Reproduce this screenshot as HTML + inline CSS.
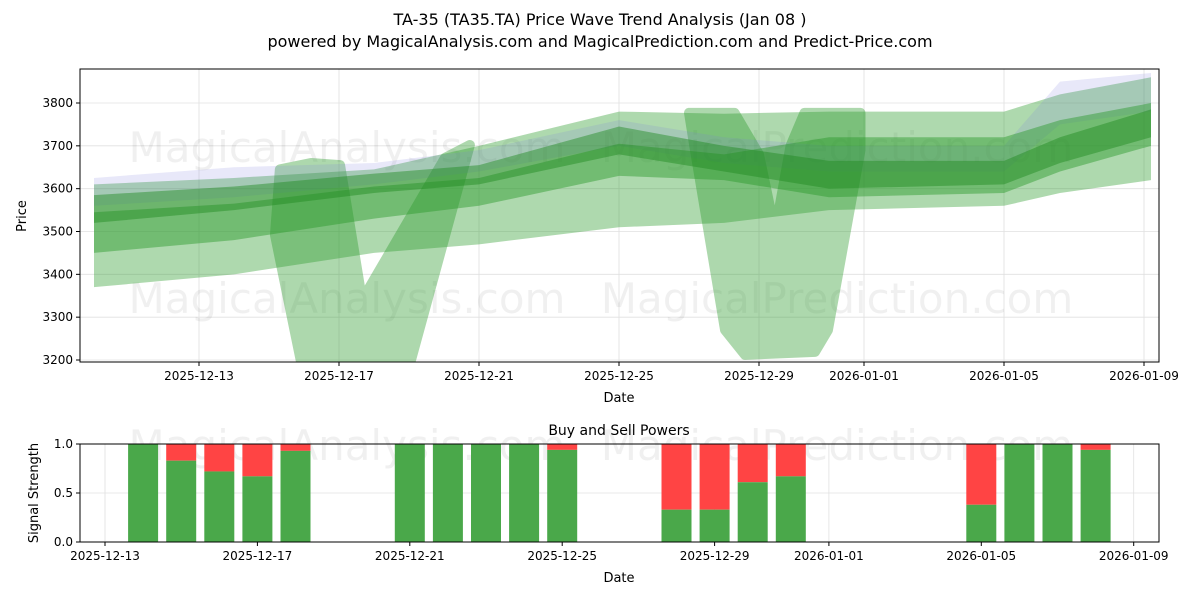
<!DOCTYPE html>
<html><head><meta charset="utf-8"><style>
body{margin:0;background:#fff;font-family:"Liberation Sans","DejaVu Sans",sans-serif}
svg text{font-family:"DejaVu Sans","Liberation Sans",sans-serif;fill:#000}
</style></head><body>
<svg id="c" width="1200" height="600" xmlns="http://www.w3.org/2000/svg">
<text x="600" y="25" text-anchor="middle" font-size="16">TA-35 (TA35.TA) Price Wave Trend Analysis (Jan 08 )</text>
<text x="600" y="47" text-anchor="middle" font-size="16">powered by MagicalAnalysis.com and MagicalPrediction.com and Predict-Price.com</text>
<g id="topg"></g><g id="botg"></g>
</svg>
<script>
// day numbers: 1 = Dec 1 2025, 32 = Jan 1 2026
const bandDays=[10,14,18,21,25,28,31,36,37.6,40.2];
const bandAHi=[3610,3625,3645,3700,3780,3775,3780,3780,3820,3860];
const bandALo=[3370,3400,3450,3470,3510,3520,3550,3560,3590,3620];
const bandBHi=[3545,3565,3605,3625,3705,3680,3720,3720,3760,3800];
const bandBLo=[3450,3480,3530,3560,3630,3620,3580,3590,3640,3700];
const bandCHi=[3585,3605,3635,3655,3745,3700,3665,3665,3720,3785];
const bandCLo=[3520,3550,3590,3610,3680,3640,3600,3610,3660,3720];
const blueHi=[3625,3650,3660,3690,3760,3720,3700,3700,3850,3870];
const blueLo=[3560,3580,3610,3640,3700,3660,3640,3640,3750,3780];
const dip1=[[15.17,3492],[15.31,3645],[16.2,3660],[17.03,3655],[17.66,3340],[20.03,3672],[20.74,3702],[18.89,3150],[16.03,3150]];
const dip2=[[27.0,3777],[28.3,3777],[29.0,3680],[29.46,3500],[29.9,3700],[30.3,3777],[31.9,3777],[31.9,3690],[30.97,3270],[30.6,3219],[28.6,3212],[28.03,3270],[27.17,3690]];
const yTicks=[3200,3300,3400,3500,3600,3700,3800];
const xTickDays=[13,17,21,25,29,32,36,40];
const xTickLabels=["2025-12-13","2025-12-17","2025-12-21","2025-12-25","2025-12-29","2026-01-01","2026-01-05","2026-01-09"];
const barDays=[14,15,16,17,18,21,22,23,24,25,28,29,30,31,36,37,38,39];
const buyPower=[1,0.83,0.72,0.67,0.93,1,1,1,1,0.94,0.33,0.33,0.61,0.67,0.38,1,1,0.94];
const sigTicks=[0,0.5,1];

const NS="http://www.w3.org/2000/svg";
function mk(p,t,a){const e=document.createElementNS(NS,t);for(const k in a)e.setAttribute(k,a[k]);p.appendChild(e);return e;}
const topG=document.getElementById('topg'),botG=document.getElementById('botg');
const X=d=>199+(d-13)*35, Y=v=>360-(v-3200)*257/600;
const L=80,R=1159,T=69,B=362;
yTicks.forEach(v=>{const g=mk(topG,'line',{x1:L,x2:R,y1:Y(v),y2:Y(v),stroke:'#e0e0e0','stroke-width':0.8});});
xTickDays.forEach(d=>{const g=mk(topG,'line',{x1:X(d),x2:X(d),y1:T,y2:B,stroke:'#e0e0e0','stroke-width':0.8});});
[[347,162],[837,162],[347,313],[837,313]].forEach((p,i)=>{const t=mk(topG,'text',{x:p[0],y:p[1],'text-anchor':'middle','font-size':42,fill:'#000','fill-opacity':0.06});t.textContent=i%2?'MagicalPrediction.com':'MagicalAnalysis.com';});
const clip=mk(topG,'clipPath',{id:'cp'});mk(clip,'rect',{x:L,y:T,width:R-L,height:B-T});
const g=mk(topG,'g',{'clip-path':'url(#cp)'});
function band(hi,lo,col,op,name){const pts=bandDays.map((d,i)=>X(d)+','+Y(hi[i])).concat(bandDays.map((d,i)=>X(d)+','+Y(lo[i])).reverse());const p=mk(g,'polygon',{points:pts.join(' '),fill:col,'fill-opacity':op});}
function poly(arr,col,op,name){const gg=mk(g,'g',{opacity:op});const p=mk(gg,'polygon',{points:arr.map(q=>X(q[0])+','+Y(q[1])).join(' '),fill:col,'stroke':col,'stroke-width':10,'stroke-linejoin':'round'});}
band(bandAHi,bandALo,'#2a9a2a',0.38,'wave-band-outer');
poly(dip1,'#2a9a2a',0.38,'wave-dip-1');
poly(dip2,'#2a9a2a',0.38,'wave-dip-2');
band(blueHi,blueLo,'#8080e0',0.18,'wave-band-blue');
band(bandBHi,bandBLo,'#2a9a2a',0.45,'wave-band-mid');
band(bandCHi,bandCLo,'#1f8a1f',0.45,'wave-band-core');
const fr=mk(topG,'rect',{x:L,y:T,width:R-L,height:B-T,fill:'none',stroke:'#000','stroke-width':1});
yTicks.forEach(v=>{mk(topG,'line',{x1:L-4,x2:L,y1:Y(v),y2:Y(v),stroke:'#000'});const t=mk(topG,'text',{x:L-7,y:Y(v)+4,'text-anchor':'end','font-size':12});t.textContent=v;});
xTickDays.forEach((d,i)=>{mk(topG,'line',{x1:X(d),x2:X(d),y1:B,y2:B+4,stroke:'#000'});const t=mk(topG,'text',{x:X(d),y:B+18,'text-anchor':'middle','font-size':12});t.textContent=xTickLabels[i];});
let t=mk(topG,'text',{x:619,y:402,'text-anchor':'middle','font-size':13});t.textContent='Date';
t=mk(topG,'text',{x:26,y:216,'text-anchor':'middle','font-size':13,transform:'rotate(-90 26 216)'});t.textContent='Price';
const X2=d=>105+(d-13)*38.1, Y2=v=>542-v*98;
const BT=444,BB=542;
sigTicks.forEach(v=>{const l=mk(botG,'line',{x1:L,x2:R,y1:Y2(v),y2:Y2(v),stroke:'#e0e0e0','stroke-width':0.8});});
xTickDays.forEach(d=>{const l=mk(botG,'line',{x1:X2(d),x2:X2(d),y1:BT,y2:BB,stroke:'#e0e0e0','stroke-width':0.8});});
[[347,460],[837,460]].forEach((p,i)=>{const w=mk(botG,'text',{x:p[0],y:p[1],'text-anchor':'middle','font-size':42,fill:'#000','fill-opacity':0.06});w.textContent=i?'MagicalPrediction.com':'MagicalAnalysis.com';});
barDays.forEach((d,i)=>{const x=X2(d)-15,b=buyPower[i];
const s=mk(botG,'rect',{x:x,y:Y2(1),width:30,height:Y2(b)-Y2(1),fill:'#ff4444'});
const r=mk(botG,'rect',{x:x,y:Y2(b),width:30,height:Y2(0)-Y2(b),fill:'#4aa84a'});});
const fr2=mk(botG,'rect',{x:L,y:BT,width:R-L,height:BB-BT,fill:'none',stroke:'#000'});
sigTicks.forEach(v=>{mk(botG,'line',{x1:L-4,x2:L,y1:Y2(v),y2:Y2(v),stroke:'#000'});const s=mk(botG,'text',{x:L-7,y:Y2(v)+4,'text-anchor':'end','font-size':12});s.textContent=v.toFixed(1);});
xTickDays.forEach((d,i)=>{mk(botG,'line',{x1:X2(d),x2:X2(d),y1:BB,y2:BB+4,stroke:'#000'});const s=mk(botG,'text',{x:X2(d),y:BB+18,'text-anchor':'middle','font-size':12});s.textContent=xTickLabels[i];});
t=mk(botG,'text',{x:619,y:435,'text-anchor':'middle','font-size':14});t.textContent='Buy and Sell Powers';
t=mk(botG,'text',{x:619,y:582,'text-anchor':'middle','font-size':13});t.textContent='Date';
t=mk(botG,'text',{x:38,y:493,'text-anchor':'middle','font-size':13,transform:'rotate(-90 38 493)'});t.textContent='Signal Strength';
</script>
</body></html>
